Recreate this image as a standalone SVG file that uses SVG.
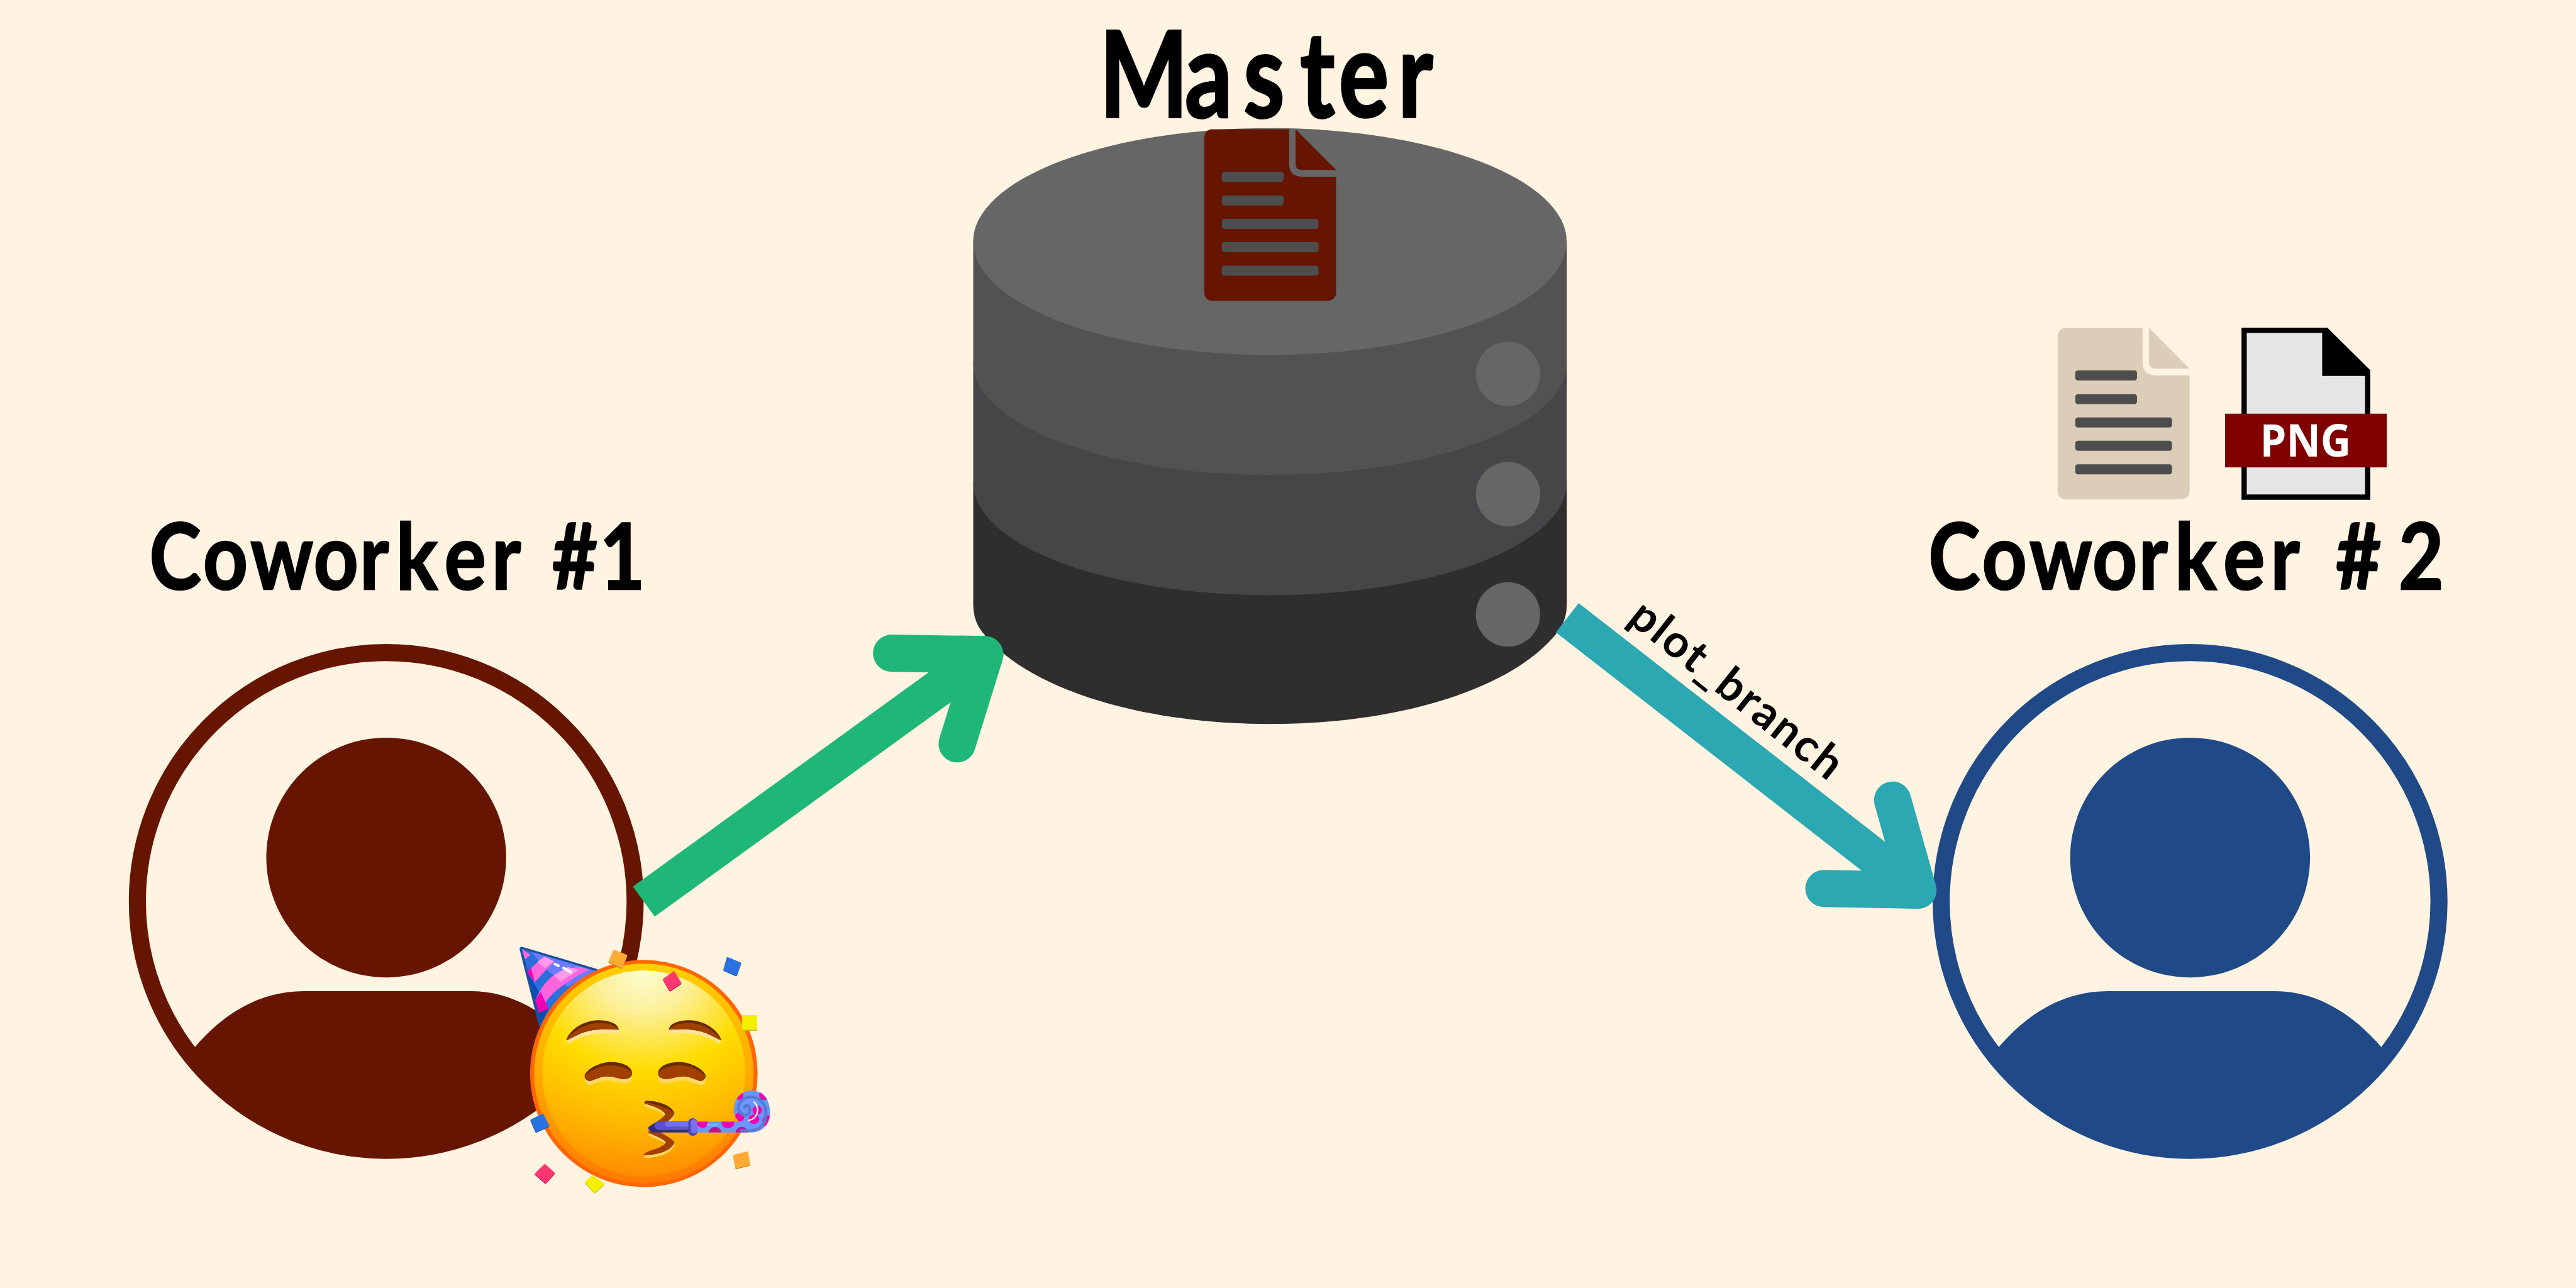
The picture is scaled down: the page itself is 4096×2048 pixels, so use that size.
<svg xmlns="http://www.w3.org/2000/svg" width="4096" height="2048" viewBox="0 0 4096 2048">
<style>
.t{font-family:"Lato","Liberation Sans",sans-serif;font-weight:700;fill:#000;stroke:#000;stroke-width:1}
.l{fill:#4d4d4d}
.shaft{fill:none;stroke-width:22.6;stroke-linecap:butt}
.head{fill:none;stroke-width:22.6;stroke-linecap:round;stroke-linejoin:round}
.c{stroke-width:10;stroke-linejoin:round}
</style>
<defs>
<g id="doc">
<path d="M5,0H51.7V21Q51.7,28.9 60,28.9H80.3V99Q80.3,104.4 74,104.4H5.5Q0,104.4 0,99V6Q0,0 5,0Z"/>
<path d="M55.6,0L80.3,24.8H59.5Q55.6,24.8 55.6,21Z"/>
<rect class="l" x="10.7" y="25.9" width="37.6" height="6.1" rx="1.6"/>
<rect class="l" x="10.7" y="40.3" width="37.6" height="6.1" rx="1.6"/>
<rect class="l" x="10.7" y="54.5" width="58.9" height="6.1" rx="1.6"/>
<rect class="l" x="10.7" y="68.7" width="58.9" height="6.1" rx="1.6"/>
<rect class="l" x="10.7" y="83" width="58.9" height="6.1" rx="1.6"/>
</g>
<g id="person">
<circle cx="235.1" cy="548.7" r="151.5" fill="none" stroke="currentColor" stroke-width="10.4"/>
<circle cx="235.1" cy="522" r="73" fill="currentColor"/>
<path fill="currentColor" d="M118.4,637.7C135,618 157,603.3 185,603.3H287C313,603.3 335,618 351.8,637.7L355.1,641.2A151.5,151.5 0 0 1 115.1,641.2Z"/>
</g>
<linearGradient id="rim" x1="0" y1="0" x2="0" y2="1">
<stop offset="0" stop-color="#ffd000"/><stop offset=".5" stop-color="#ffaa00"/><stop offset="1" stop-color="#ff7a00"/>
</linearGradient>
<radialGradient id="face" gradientUnits="userSpaceOnUse" cx="745" cy="205" r="1085">
<stop offset="0" stop-color="#fcfdd2"/><stop offset=".2" stop-color="#fcf09a"/><stop offset=".48" stop-color="#ffdc00"/><stop offset=".75" stop-color="#ffb800"/><stop offset="1" stop-color="#ff8c00"/>
</radialGradient>
<clipPath id="hatclip"><path d="M175,90L520,205L265,490Z"/></clipPath>
<clipPath id="blowclip"><path id="blowshape" d="M995,998H1190C1170,970 1160,950 1168,915C1175,865 1210,835 1250,835C1300,835 1335,880 1335,950C1335,1010 1300,1055 1250,1055H995Z"/></clipPath>
<g id="brow">
<path fill="#ffe39a" transform="translate(0,20)" d="M382,570C400,510 470,465 530,465C590,465 625,485 628,515C560,510 500,510 440,540C410,555 390,570 382,570Z"/>
<path fill="#6b2a00" d="M382,570C400,510 470,465 530,465C590,465 625,485 628,515C560,510 500,510 440,540C410,555 390,570 382,570Z"/>
<path fill="#a04000" d="M384,568C410,525 470,482 530,480C585,478 615,495 626,515C560,510 500,510 440,540C410,555 390,570 384,568Z"/>
</g>
<g id="eye">
<path fill="#ffd766" transform="translate(0,22)" d="M468,755C480,720 540,685 590,685C650,685 690,710 690,745C690,765 670,775 650,775C620,770 600,760 575,760C545,760 520,775 495,785C480,785 468,775 468,755Z"/>
<path fill="#6b2a00" d="M468,755C480,720 540,685 590,685C650,685 690,710 690,745C690,765 670,775 650,775C620,770 600,760 575,760C545,760 520,775 495,785C480,785 468,775 468,755Z"/>
<path fill="#a04000" d="M470,758C490,730 540,702 590,702C645,702 680,725 690,745C690,765 670,775 650,775C620,770 600,760 575,760C545,760 520,775 495,785C480,785 470,775 470,758Z"/>
</g>
</defs>
<rect width="4096" height="2048" fill="#fff3e2"/>
<g transform="scale(2.61224)">
<g id="master">
<text class="t" transform="scale(.78,1)" y="71.2" font-size="73" style="stroke-width:1.4" x="858.2 924.7 970.4 1014.6 1044.7 1091">Master</text>
<g id="cylinder">
<path fill="#2e2e2e" d="M592.4,294V368Q592.4,376 596,382C620,417 690,440.7 773,440.7C856,440.7 926,417 950,382Q953.7,376 953.7,368V294Z"/>
<path fill="#464648" d="M592.4,221V294A180.65,68.3 0 0 0 953.7,294V221Z"/>
<path fill="#525252" d="M592.4,147V221A180.65,68.1 0 0 0 953.7,221V147Z"/>
<ellipse cx="773" cy="147" rx="180.65" ry="69" fill="#666"/>
<circle cx="917.9" cy="227.6" r="19.6" fill="#666"/>
<circle cx="917.9" cy="300.8" r="19.6" fill="#666"/>
<circle cx="917.9" cy="374" r="19.6" fill="#666"/>
</g>
<use href="#doc" x="733" y="78.7" fill="#661500"/>
</g>
<g id="coworker1">
<text class="t" transform="scale(.85,1)" y="358.7" font-size="56" x="107 145.4 179.4 224.5 257.6 283.5 318.2 352.1 385 395.3 429.4">Coworker #1</text>
<use href="#person" color="#661500"/>
</g>
<g id="coworker2">
<text class="t" transform="scale(.85,1)" y="358.7" font-size="56" x="1380.9 1419.3 1453.3 1498.4 1531.5 1557.4 1592.1 1626 1658.9 1672.7 1717.6">Coworker #2</text>
<use href="#person" x="1098" color="#204a87"/>
<use href="#doc" x="1252.5" y="199.6" fill="#dccdb9"/>
<g id="png-file">
<path fill="#e5e5e5" stroke="#000" stroke-width="3.2" d="M1366,201H1416L1441.2,226V302.6H1366Z"/>
<path fill="#000" d="M1413.5,200L1442.8,225.5V228.8H1413.5Z"/>
<rect x="1354.4" y="251.8" width="98.4" height="32.7" fill="#800000"/>
<text x="1375.6" y="278" font-family="'Open Sans','Liberation Sans',sans-serif" font-weight="700" font-size="27.7" fill="#fff" textLength="55.5" lengthAdjust="spacingAndGlyphs">PNG</text>
</g>
</g>
<g id="connectors">
<path class="shaft" stroke="#1fb777" d="M391.9,548.8L599.5,398.4"/>
<path class="head" stroke="#1fb777" d="M542.7,397.6L599.5,398.4L582.6,452.8"/>
<path class="shaft" stroke="#2ba8b2" d="M954,376L1167,542"/>
<path class="head" stroke="#2ba8b2" d="M1152,487L1167.5,541.9L1110.2,540.8"/>
<text transform="translate(990,378) rotate(38.5)" font-family="Lato,'Liberation Sans',sans-serif" font-weight="700" font-size="27.5" textLength="157" lengthAdjust="spacing" fill="#000">plot_branch</text>
</g>
<g id="party-emoji" transform="matrix(.1302,0,0,.11574,294.9,567.2)">
<path d="M175,90L520,205L265,490Z" fill="#1a4fa0" stroke="#1a4fa0" stroke-width="22" stroke-linejoin="round"/>
<g clip-path="url(#hatclip)">
<path fill="#2a6fdb" d="M175,90H520V490H175Z"/>
<path fill="#0a4db3" d="M170,90L200,210L300,405L262,495L165,200Z"/>
<path fill="#6b7bff" d="M220,105L520,205L390,290L280,190Z"/>
<path fill="#ff66dd" d="M198,210L280,130L325,155L235,265Z"/>
<path fill="#f000b8" d="M198,210L218,190L235,265Z"/>
<path fill="#ff66dd" d="M238,360C260,300 290,255 325,228C370,200 420,185 450,185L490,200C440,225 410,245 385,268C350,295 300,330 255,425Z"/>
<path fill="#f000b8" d="M238,360L262,315L300,405L255,425Z"/>
<path fill="#ff99e8" d="M245,160L280,130L325,155L285,190Z"/>
<path fill="#ff99e8" d="M325,228L390,185L440,200L355,262Z"/>
<path fill="#ff66dd" d="M175,90L215,120L190,145Z"/>
</g>
<path stroke="#fff" stroke-width="14" stroke-linecap="round" d="M330,170L345,178M370,190L403,212"/>
<ellipse cx="745" cy="745" rx="532" ry="597" fill="#ff6600"/>
<ellipse cx="745" cy="745" rx="513" ry="578" fill="url(#rim)"/>
<ellipse cx="745" cy="745" rx="475" ry="542" fill="url(#face)"/>
<use href="#brow"/>
<use href="#brow" transform="translate(1490,0) scale(-1,1)"/>
<use href="#eye"/>
<use href="#eye" transform="translate(1502,0) scale(-1,1)"/>
<g id="mouth">
<path fill="#ffd766" transform="translate(0,14)" d="M748,897C748,888 760,888 790,892C840,900 880,925 888,955C880,985 840,1010 815,1030L765,1030C790,1010 830,985 845,960C840,940 790,915 748,905Z"/>
<path fill="#ffd766" transform="translate(0,14)" d="M765,1050L815,1050C840,1065 870,1085 888,1105C880,1150 810,1175 748,1175C740,1170 760,1155 790,1145C820,1135 845,1120 848,1105C830,1085 790,1070 765,1055Z"/>
<path fill="#a04000" d="M748,897C748,888 760,888 790,892C840,900 880,925 888,955C880,985 840,1010 815,1030L765,1030C790,1010 830,985 845,960C840,940 790,915 748,905Z"/>
<path fill="#a04000" d="M765,1050L815,1050C840,1065 870,1085 888,1105C880,1150 810,1175 748,1175C740,1170 760,1155 790,1145C820,1135 845,1120 848,1105C830,1085 790,1070 765,1055Z"/>
<path fill="#6b2a00" d="M748,897C748,888 760,888 790,892C840,900 880,925 888,955C860,925 800,905 748,897Z"/>
</g>
<g id="blower">
<path fill="#6a96ff" d="M995,998H1190C1170,970 1160,950 1168,915C1175,865 1210,835 1250,835C1300,835 1335,880 1335,950C1335,1010 1300,1055 1250,1055H995Z"/>
<g clip-path="url(#blowclip)">
<ellipse cx="1138" cy="1005" rx="30" ry="28" fill="#f000b0"/>
<ellipse cx="1020" cy="1005" rx="26" ry="26" fill="#f000b0"/>
<ellipse cx="1078" cy="1060" rx="30" ry="34" fill="#c010a0"/>
<ellipse cx="1203" cy="1060" rx="30" ry="34" fill="#c010a0"/>
<ellipse cx="1192" cy="975" rx="22" ry="24" fill="#f000b0"/>
<ellipse cx="1275" cy="938" rx="22" ry="24" fill="#f000b0"/>
<ellipse cx="1190" cy="860" rx="20" ry="24" fill="#f000b0"/>
<ellipse cx="1310" cy="860" rx="26" ry="26" fill="#f000b0"/>
<ellipse cx="1325" cy="995" rx="26" ry="30" fill="#f000b0"/>
<ellipse cx="1260" cy="985" rx="25" ry="25" fill="#f000b0"/>
</g>
<path fill="none" stroke="#5a78d0" stroke-width="14" stroke-linecap="round" d="M1200,1045H1250C1300,1040 1320,990 1315,940C1310,890 1270,860 1230,870C1190,880 1175,930 1200,955C1220,975 1245,960 1240,930C1235,905 1215,910 1215,925"/>
<path fill="none" stroke="#8aa8ff" stroke-width="14" stroke-linecap="round" d="M1045,1015H1085"/>
<path fill="none" stroke="#fff" stroke-width="7" stroke-linecap="round" d="M1260,895C1285,920 1285,980 1235,992"/>
<path fill="#352e80" d="M765,1030C780,1015 800,1000 820,997H960V1055H790C780,1055 765,1045 765,1030Z"/>
<path fill="#5a50d0" d="M795,1015C800,1000 820,997 830,997H960V1042H815C800,1040 795,1030 795,1015Z"/>
<rect x="845" y="998" width="115" height="27" rx="10" fill="#7070f0"/>
<rect x="953" y="980" width="42" height="93" rx="20" fill="#4a46b8"/>
<rect x="965" y="985" width="28" height="75" rx="13" fill="#7a70f5"/>
</g>
<g id="confetti">
<path class="c" fill="#c98a1c" stroke="#c98a1c" transform="translate(0,5)" d="M607,100L662,125L640,185L585,155Z"/>
<path class="c" fill="#ffaa33" stroke="#ffaa33" d="M607,100L662,125L640,185L585,155Z"/>
<path class="c" fill="#d6005c" stroke="#d6005c" transform="translate(0,5)" d="M885,213L915,268L868,303L840,250Z"/>
<path class="c" fill="#ff3870" stroke="#ff3870" d="M885,213L915,268L868,303L840,250Z"/>
<path class="c" fill="#1a55b5" stroke="#1a55b5" transform="translate(0,4)" d="M1137,138L1195,165L1176,225L1122,198Z"/>
<path class="c" fill="#2a72e0" stroke="#2a72e0" d="M1137,138L1195,165L1176,225L1122,198Z"/>
<path class="c" fill="#c9c000" stroke="#c9c000" transform="translate(0,5)" d="M1210,442H1270V510H1210Z"/>
<path class="c" fill="#f5f000" stroke="#f5f000" d="M1210,442H1270V510H1210Z"/>
<path class="c" fill="#1a55b5" stroke="#1a55b5" transform="translate(0,4)" d="M272,962L298,1020L242,1047L220,990Z"/>
<path class="c" fill="#2a72e0" stroke="#2a72e0" d="M272,962L298,1020L242,1047L220,990Z"/>
<path class="c" fill="#c98a1c" stroke="#c98a1c" transform="translate(0,5)" d="M1168,1178L1228,1160L1236,1222L1178,1238Z"/>
<path class="c" fill="#ffaa33" stroke="#ffaa33" d="M1168,1178L1228,1160L1236,1222L1178,1238Z"/>
<path class="c" fill="#d6005c" stroke="#d6005c" transform="translate(0,5)" d="M282,1227L323,1268L285,1315L241,1272Z"/>
<path class="c" fill="#ff3870" stroke="#ff3870" d="M282,1227L323,1268L285,1315L241,1272Z"/>
<path class="c" fill="#c9c000" stroke="#c9c000" transform="translate(0,5)" d="M505,1287L555,1325L515,1365L475,1315Z"/>
<path class="c" fill="#f5f000" stroke="#f5f000" d="M505,1287L555,1325L515,1365L475,1315Z"/>
</g>
</g>
</g>
</svg>
